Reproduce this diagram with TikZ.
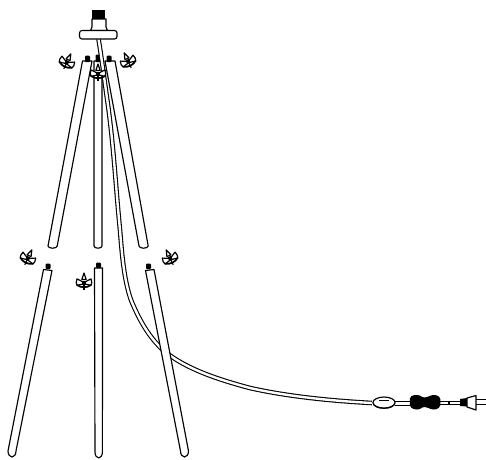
\documentclass[tikz,border=0pt]{standalone}
\tikzset{
 leg/.style={draw=black,fill=white,line width=1.15pt,line join=round},
 cord/.style={draw=black,line width=4.6pt},
 cordin/.style={draw=white,line width=2.4pt},
 wing/.style={draw=black,fill=white,line width=1.2pt,line join=round}
}
\newcommand{\wingnut}[3]{%
\begin{scope}[shift={(#1,#2)},rotate=#3]
 \draw[wing] (-1,0) -- (-7,-3.2) .. controls (-8,-1) and (-8,2) .. (-7,3.4) -- (-1,2) -- cycle;
 \draw[wing] (1,0) -- (7,-3.2) .. controls (8,-1) and (8,2) .. (7,3.4) -- (1,2) -- cycle;
 \draw[wing] (-2.2,-2.5) -- (0,-9) -- (2.2,-2.5) -- cycle;
 \draw[line width=1.7pt] (-7,3) .. controls (-3,6) and (3,6) .. (7,3);
 \fill (-1.8,-1.5) rectangle (1.8,2.5);
 \draw[line width=1.1pt] (0,2) -- (0,7.5);
\end{scope}}
\newcommand{\cordpath}{(98.5,39) .. controls (102,60) and (105,85) .. (108,105) .. controls (114,150) and (116,190) .. (120,230) .. controls (122,255) and (124,280) .. (131,300) .. controls (140,322) and (150,338) .. (163,350) .. controls (185,369) and (220,380) .. (250,388) .. controls (290,397) and (335,401) .. (372,403)}
\begin{document}
\begin{tikzpicture}[x=1pt,y=-1pt]
\useasboundingbox (0,0) rectangle (486,459);
% upper legs
\draw[leg] (82.5,61) -- (48,246) arc[start angle=180,end angle=0,x radius=4.6,y radius=2.2] -- (92,61) -- cycle;
\draw[leg] (94,61) -- (94,246) arc[start angle=180,end angle=0,x radius=4,y radius=2.2] -- (102,61) -- cycle;
\draw[leg] (105,61) -- (139,246) arc[start angle=180,end angle=0,x radius=4.6,y radius=2.2] -- (115,61) -- cycle;
% upper studs
\fill[rounded corners=1pt] (85,62) rectangle (90,55.5) (95.5,62) rectangle (100.5,54.5) (106.5,62) rectangle (111.5,55.5);
% cord
\path[cord] \cordpath;
\path[cordin] \cordpath;
% lower legs
\draw[leg] (43.5,269.5) -- (8,451) arc[start angle=180,end angle=0,x radius=4,y radius=6] -- (52,270.5) -- cycle;
\draw[leg] (94.5,268) -- (95,452) arc[start angle=180,end angle=0,x radius=3.7,y radius=6] -- (102.5,268) -- cycle;
\draw[leg] (145.5,270.5) -- (180.5,451) arc[start angle=180,end angle=0,x radius=4,y radius=6] -- (154,269.5) -- cycle;
\fill[rounded corners=1pt] (45.5,269) rectangle (50.5,263.5) (96,268) rectangle (101,262.5) (146,269) rectangle (151,263.5);
% base
\draw[leg] (92,19) -- (92,27) -- (90.5,30.5) -- (107.5,30.5) -- (106,27) -- (106,19) -- cycle;
\draw[leg,rounded corners=2.5pt] (79.5,30.5) rectangle (117,39);
\fill (92,10) rectangle (105,19);
% wing nuts
\wingnut{67}{62}{-25}
\wingnut{128}{61}{25}
\wingnut{98}{73}{0}
\wingnut{28}{258}{-25}
\wingnut{170}{258}{25}
\wingnut{84}{282}{0}
% cord to plug
\path[cord] (395,403.5) -- (412,403.5);
\path[cordin] (395,403.5) -- (412,403.5);
\path[cord] (438,403) -- (462,403);
\path[cordin] (438,403) -- (462,403);
% switch
\draw[leg] (384,402.5) ellipse[x radius=11,y radius=5.5];
\draw[line width=.8pt] (373,403) arc[start angle=180,end angle=0,x radius=11,y radius=5.5];
\draw[line width=1pt] (379,400.5) -- (389,400.5);
% grip
\fill (410,402) .. controls (409,396) and (412,395) .. (417,395) .. controls (421,395) and (421,397.5) .. (425,397.5) .. controls (429,397.5) and (429,395) .. (434,395) .. controls (438,395) and (441,397) .. (440.5,402) .. controls (441,407) and (438,409.5) .. (434,409.5) .. controls (429,409.5) and (429,407) .. (425,407) .. controls (421,407) and (421,409.5) .. (417,409.5) .. controls (412,409.5) and (409,407) .. (410,402) -- cycle;
\fill (448,401) rectangle (450,405);
% plug
\fill (460,399) -- (467,398) -- (467,406.5) -- (460,406) -- cycle;
\draw[leg] (467,398) -- (476,395.5) -- (476,410) -- (467,407) -- cycle;
\draw[line width=1pt] (476,399) -- (485.5,399) (476,404.5) -- (485.5,404.5);
\end{tikzpicture}
\end{document}
